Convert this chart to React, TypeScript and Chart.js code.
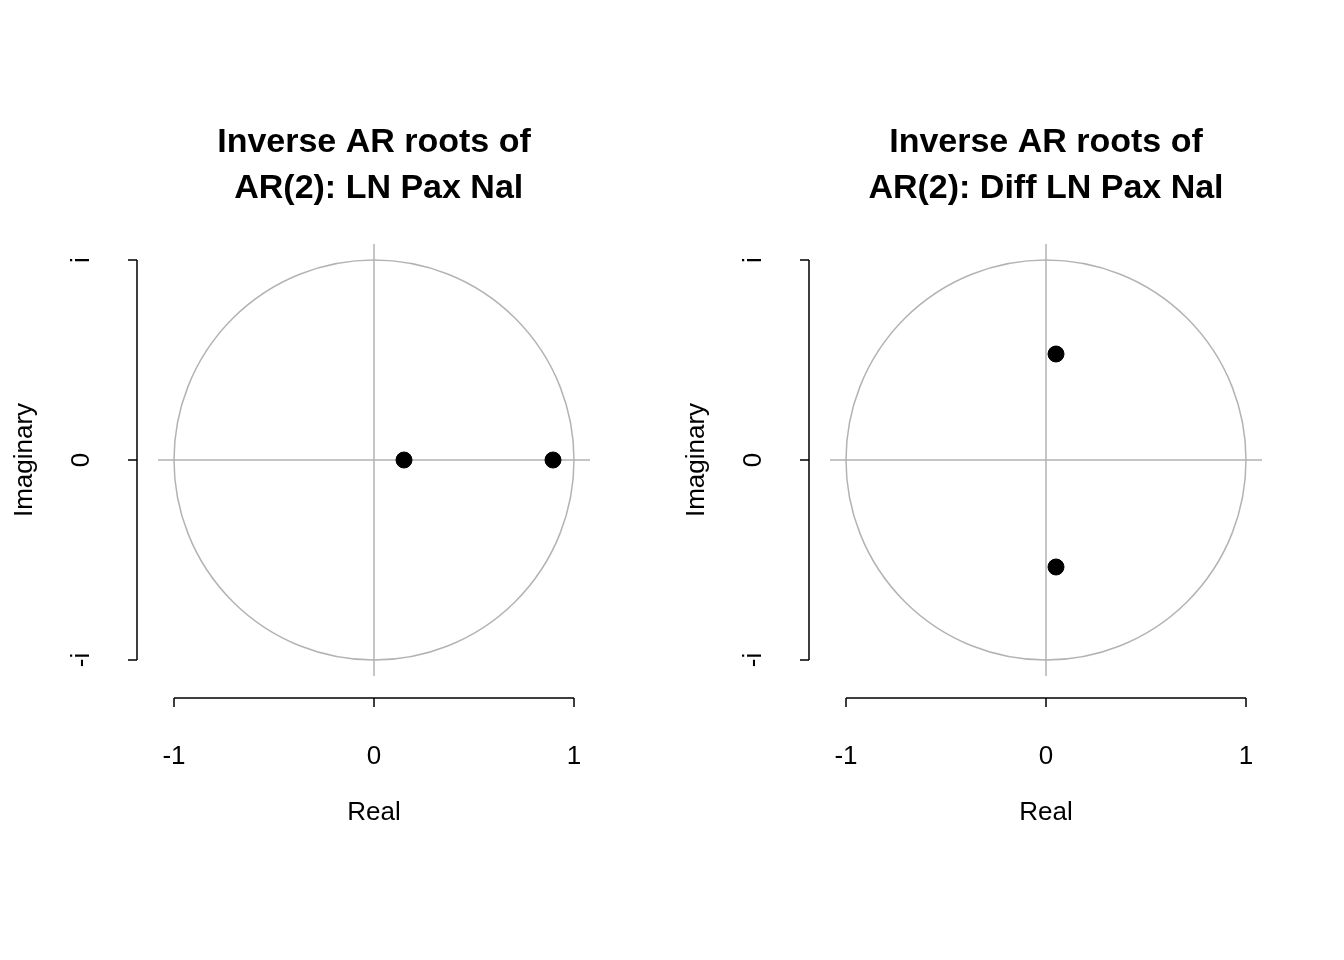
import { useEffect, useRef } from 'react';
import { Chart, registerables } from 'chart.js';

Chart.register(...registerables);

const titles = [
  ['Inverse AR roots of', ' AR(2): LN Pax Nal'],
  ['Inverse AR roots of', 'AR(2): Diff LN Pax Nal'],
];
const rootsRe = [[0.15, 0.895], [0.05, 0.05]];
const rootsIm = [[0, 0], [0.53, -0.535]];
const xTicks = [-1, 0, 1];
const xTickLabels = ['-1', '0', '1'];
const yTicks = [1, 0, -1];
const yTickLabels = ['i', '0', '-i'];

const FONT = '"Liberation Sans", Arial, sans-serif';

const rPlot = {
  id: 'rPlot',
  beforeDatasetsDraw(chart: any) {
    const { ctx, scales } = chart;
    const x = scales.x, y = scales.y;
    const area = chart.chartArea;
    ctx.save();
    // unit circle and cross
    ctx.strokeStyle = '#b3b3b3';
    ctx.lineWidth = 1.5;
    ctx.beginPath();
    const cx = x.getPixelForValue(0), cy = y.getPixelForValue(0);
    const r = x.getPixelForValue(1) - cx;
    ctx.arc(cx, cy, r, 0, Math.PI * 2);
    ctx.stroke();
    ctx.beginPath();
    ctx.moveTo(area.left, cy); ctx.lineTo(area.right, cy);
    ctx.moveTo(cx, area.top); ctx.lineTo(cx, area.bottom);
    ctx.stroke();
    ctx.restore();
  },
  afterDraw(chart: any) {
    const { ctx, scales } = chart;
    const x = scales.x, y = scales.y;
    const area = chart.chartArea;
    const idx = chart.options.plugins.rPlot.idx;
    ctx.save();
    ctx.strokeStyle = '#000';
    ctx.fillStyle = '#000';
    ctx.lineWidth = 1.5;
    // x axis
    const ax = area.bottom + 22;
    ctx.beginPath();
    ctx.moveTo(x.getPixelForValue(-1), ax); ctx.lineTo(x.getPixelForValue(1), ax);
    xTicks.forEach((t) => { const p = x.getPixelForValue(t); ctx.moveTo(p, ax); ctx.lineTo(p, ax + 9); });
    ctx.stroke();
    ctx.font = `26px ${FONT}`;
    ctx.textAlign = 'center'; ctx.textBaseline = 'middle';
    xTicks.forEach((t, i) => ctx.fillText(xTickLabels[i], x.getPixelForValue(t), ax + 59));
    ctx.fillText('Real', (area.left + area.right) / 2, ax + 115);
    // y axis
    const ay = area.left - 21;
    ctx.beginPath();
    ctx.moveTo(ay, y.getPixelForValue(1)); ctx.lineTo(ay, y.getPixelForValue(-1));
    yTicks.forEach((t) => { const p = y.getPixelForValue(t); ctx.moveTo(ay, p); ctx.lineTo(ay - 9, p); });
    ctx.stroke();
    yTicks.forEach((t, i) => {
      ctx.save();
      ctx.translate(ay - 55, y.getPixelForValue(t));
      ctx.rotate(-Math.PI / 2);
      ctx.fillText(yTickLabels[i], 0, 0);
      ctx.restore();
    });
    ctx.save();
    ctx.translate(ay - 112, (area.top + area.bottom) / 2);
    ctx.rotate(-Math.PI / 2);
    ctx.fillText('Imaginary', 0, 0);
    ctx.restore();
    // title
    ctx.font = `bold 34px ${FONT}`;
    const mid = (area.left + area.right) / 2;
    ctx.fillText(titles[idx][0], mid, 143);
    ctx.fillText(titles[idx][1], mid, 189);
    ctx.restore();
  },
};

function Panel({ idx }: { idx: number }) {
  const ref = useRef<HTMLCanvasElement>(null);
  useEffect(() => {
    if (!ref.current) return;
    const chart = new Chart(ref.current, {
      type: 'scatter',
      data: {
        datasets: [{
          data: rootsRe[idx].map((v, i) => ({ x: v, y: rootsIm[idx][i] })),
          backgroundColor: '#000',
          borderColor: '#000',
          pointRadius: 8,
        }],
      },
      options: {
        responsive: false,
        animation: false,
        layout: { padding: { left: 158, right: 82, top: 244, bottom: 284 } },
        scales: {
          x: { type: 'linear', min: -1.08, max: 1.08, display: false },
          y: { type: 'linear', min: -1.08, max: 1.08, display: false },
        },
        plugins: { legend: { display: false }, tooltip: { enabled: false }, rPlot: { idx } } as any,
      },
      plugins: [rPlot],
    });
    return () => chart.destroy();
  }, [idx]);
  return <canvas ref={ref} width={672} height={960} style={{ display: 'block' }} />;
}

export default function App() {
  return (
    <div style={{ position: 'fixed', left: 0, top: 0, width: 1344, height: 960, background: '#fff', display: 'flex' }}>
      <Panel idx={0} />
      <Panel idx={1} />
    </div>
  );
}
